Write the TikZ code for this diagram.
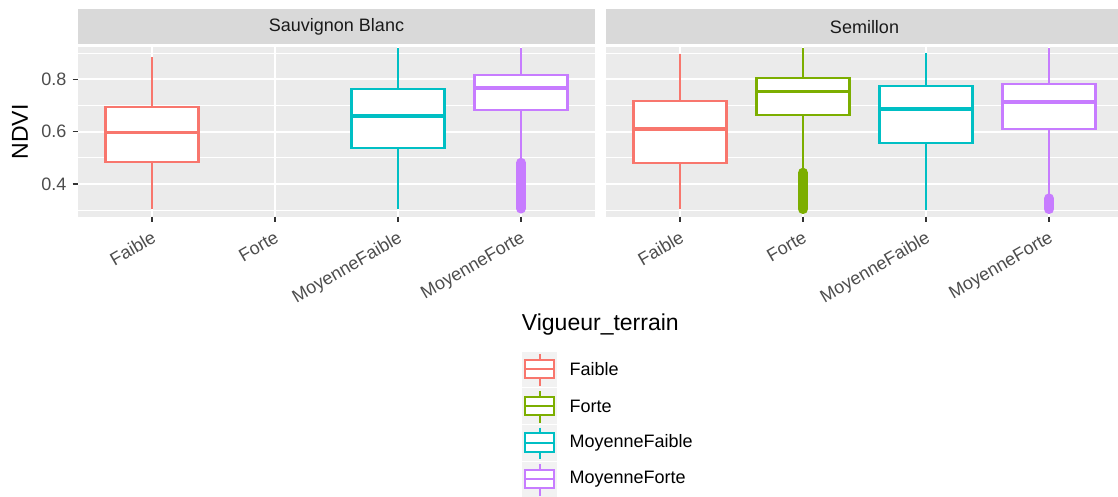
\documentclass[tikz,border=0pt]{standalone}
\usepackage{fontspec}
\setmainfont{Liberation Sans}
\usepackage{xcolor}
\usepackage{tikz}
\usetikzlibrary{calc}
\definecolor{faible}{HTML}{F8766D}
\definecolor{forte}{HTML}{7CAE00}
\definecolor{moyfaible}{HTML}{00BFC4}
\definecolor{moyforte}{HTML}{C77CFF}
\definecolor{fondpanneau}{HTML}{EBEBEB}
\definecolor{fondbandeau}{HTML}{D9D9D9}
\definecolor{fondcle}{HTML}{F2F2F2}
\definecolor{textebandeau}{HTML}{1A1A1A}
\definecolor{textegrad}{HTML}{4D4D4D}
\definecolor{gradgris}{HTML}{333333}

\begin{document}
\begin{tikzpicture}[x=1pt,y=1pt,
    grille/.style={white,line width=2pt},
    grillefine/.style={white,line width=1pt},
    trait/.style={line width=2.2pt},
    mediane/.style={line width=3.6pt},
    boite/.style={line width=2.2pt,fill=white},
    aberrant/.style={line width=10pt,line cap=round},
    graduation/.style={gradgris,line width=1.2pt},
    petit/.style={font=\fontsize{18}{20}\selectfont},
    grand/.style={font=\fontsize{23}{26}\selectfont},
    etiqx/.style={petit,text=textegrad,rotate=30,anchor=north east,inner sep=1pt},
    etiqy/.style={petit,text=textegrad,anchor=east},
    cletrait/.style={line width=2pt},
    cletexte/.style={petit,anchor=west,inner sep=0pt}]
        \useasboundingbox (0,0) rectangle (1118,497);

        % Bandeaux
        \fill[fondbandeau] (78,453) rectangle (595,487.7);
        \fill[fondbandeau] (606,453) rectangle (1118,487.7);
        \node[petit,text=textebandeau] (bandeauSB) at (336.5,470.3) {Sauvignon Blanc};
        \node[petit,text=textebandeau] (bandeauS) at (864.5,470.3) {Semillon};

        \begin{scope}[shift={(0,208.34)},y=261.7pt]
        % Fonds et grilles
        \fill[fondpanneau] (78,0.275) rectangle (595,0.922);
        \fill[fondpanneau] (606,0.275) rectangle (1118,0.922);
        \draw[grillefine] (78,0.3) -- (595,0.3) (78,0.5) -- (595,0.5) (78,0.7) -- (595,0.7) (78,0.9) -- (595,0.9);
        \draw[grillefine] (606,0.3) -- (1118,0.3) (606,0.5) -- (1118,0.5) (606,0.7) -- (1118,0.7) (606,0.9) -- (1118,0.9);
        \draw[grille] (78,0.4) -- (595,0.4) (78,0.6) -- (595,0.6) (78,0.8) -- (595,0.8);
        \draw[grille] (606,0.4) -- (1118,0.4) (606,0.6) -- (1118,0.6) (606,0.8) -- (1118,0.8);
        \draw[grille] (152,0.275) -- (152,0.922) (275,0.275) -- (275,0.922) (398,0.275) -- (398,0.922) (521,0.275) -- (521,0.922);
        \draw[grille] (680,0.275) -- (680,0.922) (803,0.275) -- (803,0.922) (926,0.275) -- (926,0.922) (1049,0.275) -- (1049,0.922);

        % Axe y
        \draw[graduation] (72.5,0.4) -- (78,0.4) (72.5,0.6) -- (78,0.6) (72.5,0.8) -- (78,0.8);
        \node[etiqy] (y04) at (70,0.4) {0.4};
        \node[etiqy] (y06) at (70,0.6) {0.6};
        \node[etiqy] (y08) at (70,0.8) {0.8};

        % Graduations x
        \draw[graduation] (152,0.275) -- (152,0.256) (275,0.275) -- (275,0.256) (398,0.275) -- (398,0.256) (521,0.275) -- (521,0.256);
        \draw[graduation] (680,0.275) -- (680,0.256) (803,0.275) -- (803,0.256) (926,0.275) -- (926,0.256) (1049,0.275) -- (1049,0.256);

        % Sauvignon Blanc, Faible
        \draw[trait,faible] (152,0.303) -- (152,0.483) (152,0.693) -- (152,0.884);
        \draw[boite,draw=faible] (105.5,0.483) rectangle (198.5,0.693);
        \draw[mediane,faible] (105.5,0.596) -- (198.5,0.596);

        % Sauvignon Blanc, MoyenneFaible
        \draw[trait,moyfaible] (398,0.303) -- (398,0.536) (398,0.762) -- (398,0.918);
        \draw[boite,draw=moyfaible] (351.5,0.536) rectangle (444.5,0.762);
        \draw[mediane,moyfaible] (351.5,0.660) -- (444.5,0.660);

        % Sauvignon Blanc, MoyenneForte
        \draw[trait,moyforte] (521,0.48) -- (521,0.683) (521,0.816) -- (521,0.918);
        \draw[aberrant,moyforte] (521,0.481) -- (521,0.306);
        \draw[boite,draw=moyforte] (474.5,0.683) rectangle (567.5,0.816);
        \draw[mediane,moyforte] (474.5,0.766) -- (567.5,0.766);

        % Semillon, Faible
        \draw[trait,faible] (680,0.303) -- (680,0.479) (680,0.718) -- (680,0.897);
        \draw[boite,draw=faible] (633.5,0.479) rectangle (726.5,0.718);
        \draw[mediane,faible] (633.5,0.611) -- (726.5,0.611);

        % Semillon, Forte
        \draw[trait,forte] (803,0.45) -- (803,0.664) (803,0.806) -- (803,0.918);
        \draw[aberrant,forte] (803,0.443) -- (803,0.304);
        \draw[boite,draw=forte] (756.5,0.664) rectangle (849.5,0.806);
        \draw[mediane,forte] (756.5,0.753) -- (849.5,0.753);

        % Semillon, MoyenneFaible
        \draw[trait,moyfaible] (926,0.30) -- (926,0.556) (926,0.774) -- (926,0.902);
        \draw[boite,draw=moyfaible] (879.5,0.556) rectangle (972.5,0.774);
        \draw[mediane,moyfaible] (879.5,0.687) -- (972.5,0.687);

        % Semillon, MoyenneForte
        \draw[trait,moyforte] (1049,0.36) -- (1049,0.609) (1049,0.781) -- (1049,0.918);
        \draw[aberrant,moyforte] (1049,0.345) -- (1049,0.304);
        \draw[boite,draw=moyforte] (1002.5,0.609) rectangle (1095.5,0.781);
        \draw[mediane,moyforte] (1002.5,0.714) -- (1095.5,0.714);
        \end{scope}

        % Titre de l'axe y
        \node[grand,rotate=90] (titreY) at (20,365) {NDVI};

        % Etiquettes de l'axe x
        \node[etiqx] (xSBfaible) at (151,268) {Faible};
        \node[etiqx] (xSBforte) at (274,268) {Forte};
        \node[etiqx] (xSBmoyfaible) at (397,268) {MoyenneFaible};
        \node[etiqx] (xSBmoyforte) at (520,268) {MoyenneForte};
        \node[etiqx] (xSfaible) at (679,268) {Faible};
        \node[etiqx] (xSforte) at (802,268) {Forte};
        \node[etiqx] (xSmoyfaible) at (925,268) {MoyenneFaible};
        \node[etiqx] (xSmoyforte) at (1048,268) {MoyenneForte};

        % Legende
        \node[grand,anchor=base west,inner sep=0pt] (titreLeg) at (521.7,166) {Vigueur\_terrain};

        \fill[fondcle] (521.7,109.7) rectangle (557.3,145.3);
        \draw[cletrait,faible] (539.5,142.7) -- (539.5,137) (539.5,118.7) -- (539.5,111);
        \draw[cletrait,draw=faible,fill=white] (525.3,118.7) rectangle (553.7,137);
        \draw[cletrait,faible] (525.3,127.7) -- (553.7,127.7);
        \node[cletexte] (legFaible) at (569.3,127.5) {Faible};

        \fill[fondcle] (521.7,73) rectangle (557.3,108.6);
        \draw[cletrait,forte] (539.5,106) -- (539.5,100.3) (539.5,82) -- (539.5,74.3);
        \draw[cletrait,draw=forte,fill=white] (525.3,82) rectangle (553.7,100.3);
        \draw[cletrait,forte] (525.3,91) -- (553.7,91);
        \node[cletexte] (legForte) at (569.3,90.8) {Forte};

        \fill[fondcle] (521.7,36.3) rectangle (557.3,71.9);
        \draw[cletrait,moyfaible] (539.5,69.3) -- (539.5,63.6) (539.5,45.3) -- (539.5,37.6);
        \draw[cletrait,draw=moyfaible,fill=white] (525.3,45.3) rectangle (553.7,63.6);
        \draw[cletrait,moyfaible] (525.3,54.3) -- (553.7,54.3);
        \node[cletexte] (legMoyFaible) at (569.3,54.1) {MoyenneFaible};

        \fill[fondcle] (521.7,0) rectangle (557.3,35.2);
        \draw[cletrait,moyforte] (539.5,32.6) -- (539.5,26.9) (539.5,8.6) -- (539.5,0.9);
        \draw[cletrait,draw=moyforte,fill=white] (525.3,8.6) rectangle (553.7,26.9);
        \draw[cletrait,moyforte] (525.3,17.6) -- (553.7,17.6);
        \node[cletexte] (legMoyForte) at (569.3,17.4) {MoyenneForte};
    \end{tikzpicture}
\end{document}
